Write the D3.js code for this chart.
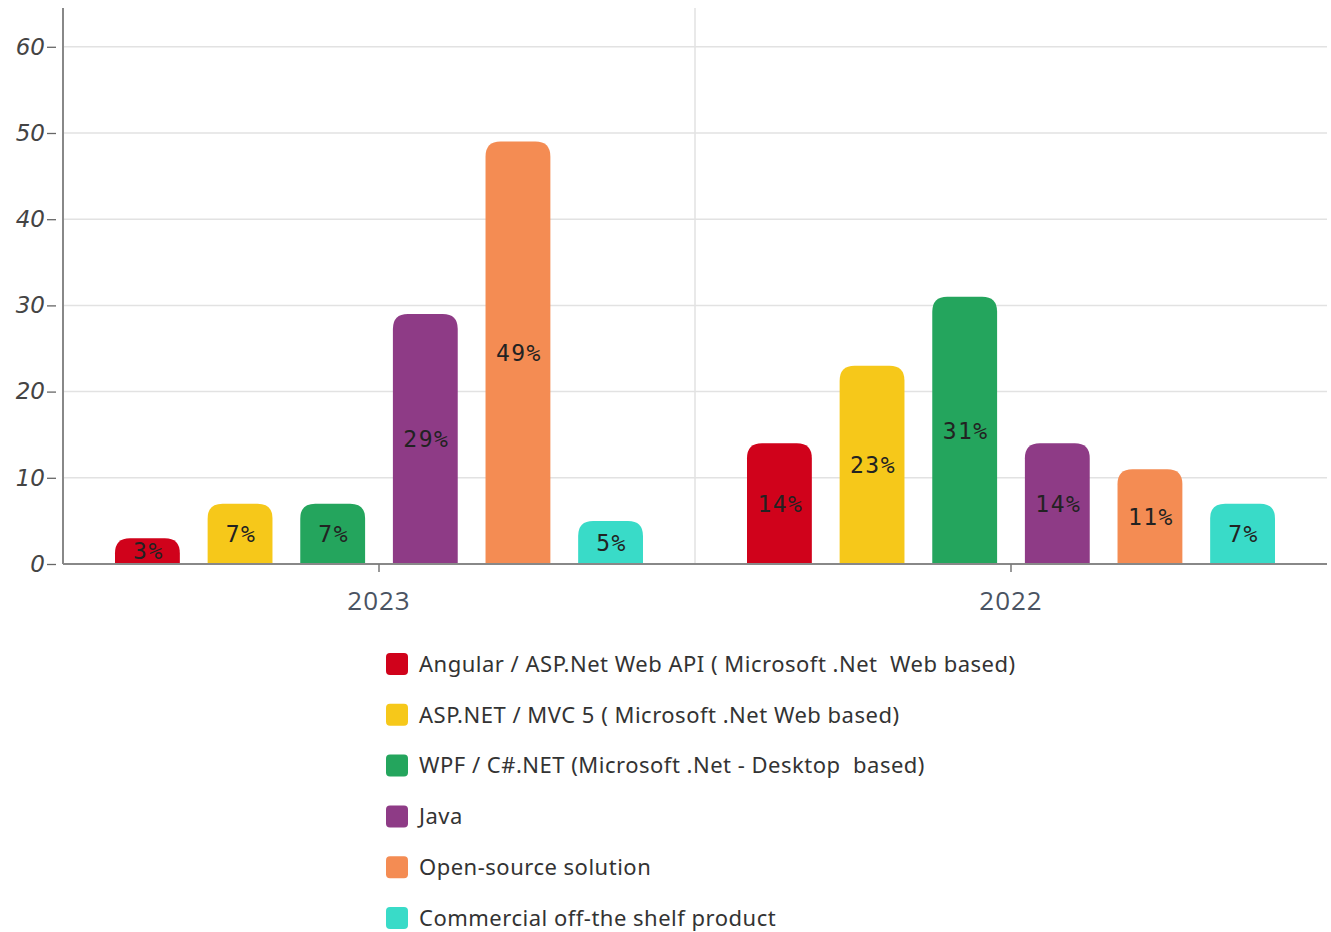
<!DOCTYPE html>
<html>
<head>
<meta charset="utf-8">
<script src="https://cdn.jsdelivr.net/npm/d3@7"></script>
<style>
  html, body { margin: 0; padding: 0; background: #fff; }
  svg { display: block; }
</style>
</head>
<body>
<svg id="chart" width="1331" height="932"></svg>
<script>
// Survey years (groups along the x axis)
const years = ["2023", "2022"];

// Technology stacks (one bar per stack within each year)
const stacks = [
  "Angular / ASP.Net Web API ( Microsoft .Net  Web based)",
  "ASP.NET / MVC 5 ( Microsoft .Net Web based)",
  "WPF / C#.NET (Microsoft .Net - Desktop  based)",
  "Java",
  "Open-source solution",
  "Commercial off-the shelf product"
];

// Share of respondents (%) per stack, per year
const values2023 = [3, 7, 7, 29, 49, 5];
const values2022 = [14, 23, 31, 14, 11, 7];

const stackColors = ["#d0021b", "#f6c81a", "#24a55d", "#8e3b86", "#f48c53", "#39dbc8"];

const yTicks = [0, 10, 20, 30, 40, 50, 60];

const valuesByYear = { "2023": values2023, "2022": values2022 };

const svg = d3.select("#chart");
const plotLeft = 63, plotRight = 1327, plotTop = 8;
const plotBottom = 564;

const x0 = d3.scaleBand().domain(years).range([plotLeft, plotRight]);
const x1 = d3.scaleBand().domain(d3.range(stacks.length))
  .range([52, x0.bandwidth() - 52]).paddingInner(0.3);
const y = d3.scaleLinear().domain([0, 64.5]).range([plotBottom, plotTop]);

// Horizontal grid lines
svg.append("g")
  .selectAll("line")
  .data(yTicks.filter(d => d > 0))
  .join("line")
  .attr("x1", plotLeft).attr("x2", plotRight)
  .attr("y1", d => y(d)).attr("y2", d => y(d))
  .attr("stroke", "#e2e2e2").attr("stroke-width", 1.5);

// Vertical divider between the year groups
svg.append("line")
  .attr("x1", x0("2022")).attr("x2", x0("2022"))
  .attr("y1", plotTop).attr("y2", plotBottom)
  .attr("stroke", "#e2e2e2").attr("stroke-width", 1.5);

// Bar with rounded top corners only
function topRoundedBar(x, yTop, w, h, r) {
  r = Math.min(r, h, w / 2);
  const b = yTop + h;
  return `M${x},${b}V${yTop + r}Q${x},${yTop} ${x + r},${yTop}H${x + w - r}Q${x + w},${yTop} ${x + w},${yTop + r}V${b}Z`;
}

const groups = svg.append("g")
  .selectAll("g")
  .data(years)
  .join("g")
  .attr("transform", d => `translate(${x0(d)},0)`);

const bars = groups.selectAll("g.bar")
  .data(yr => valuesByYear[yr].map((v, i) => ({ v, i })))
  .join("g").attr("class", "bar");

bars.append("path")
  .attr("d", d => topRoundedBar(x1(d.i), y(d.v), x1.bandwidth(), plotBottom - y(d.v), 15))
  .attr("fill", d => stackColors[d.i]);

bars.append("text")
  .attr("x", d => x1(d.i) + x1.bandwidth() / 2 + 1)
  .attr("y", d => (y(d.v) + plotBottom) / 2)
  .attr("dy", "0.36em")
  .attr("text-anchor", "middle")
  .attr("font-family", "'DejaVu Sans Mono', monospace")
  .attr("font-size", 23)
  .attr("letter-spacing", 1.5)
  .attr("fill", "#222")
  .text(d => d.v + "%");

// Y axis: ticks sit slightly off the axis line, like small dashes after the labels
const yAxis = svg.append("g")
  .attr("transform", `translate(${plotLeft},0)`)
  .call(d3.axisLeft(y).tickValues(yTicks).tickSize(0).tickPadding(18));
yAxis.select(".domain").remove();
yAxis.selectAll(".tick line").remove();
yAxis.selectAll(".tick").append("line")
  .attr("x1", -16).attr("x2", -7)
  .attr("stroke", "#666").attr("stroke-width", 1.3);
yAxis.selectAll(".tick text")
  .attr("font-family", "'DejaVu Sans', sans-serif")
  .attr("font-style", "italic")
  .attr("font-size", 23)
  .attr("fill", "#444");
svg.append("line")
  .attr("x1", plotLeft).attr("x2", plotLeft)
  .attr("y1", plotTop).attr("y2", plotBottom)
  .attr("stroke", "#888").attr("stroke-width", 2);

// X axis
const xAxis = svg.append("g")
  .attr("transform", `translate(0,${plotBottom})`)
  .call(d3.axisBottom(x0).tickSize(8).tickPadding(20));
xAxis.select(".domain").attr("stroke", "#888").attr("stroke-width", 2)
  .attr("d", `M${plotLeft},0H${plotRight}`);
xAxis.selectAll(".tick line").attr("stroke", "#777").attr("stroke-width", 1.5);
xAxis.selectAll(".tick text")
  .attr("font-family", "'Open Sans', sans-serif")
  .attr("font-size", 26)
  .attr("letter-spacing", 1)
  .attr("fill", "#4a5362");

// Legend
const legend = svg.append("g").attr("transform", "translate(386,664)");
const items = legend.selectAll("g")
  .data(stacks)
  .join("g")
  .attr("transform", (d, i) => `translate(0,${i * 50.8})`);
items.append("rect")
  .attr("x", 0).attr("y", -11)
  .attr("width", 22).attr("height", 22)
  .attr("rx", 4)
  .attr("fill", (d, i) => stackColors[i]);
items.append("text")
  .attr("x", 33).attr("y", 0).attr("dy", "0.35em")
  .attr("font-family", "'Noto Sans', sans-serif")
  .attr("font-size", 22)
  .attr("letter-spacing", 0.5)
  .attr("fill", "#333")
  .style("white-space", "pre")
  .text(d => d);
</script>
</body>
</html>
